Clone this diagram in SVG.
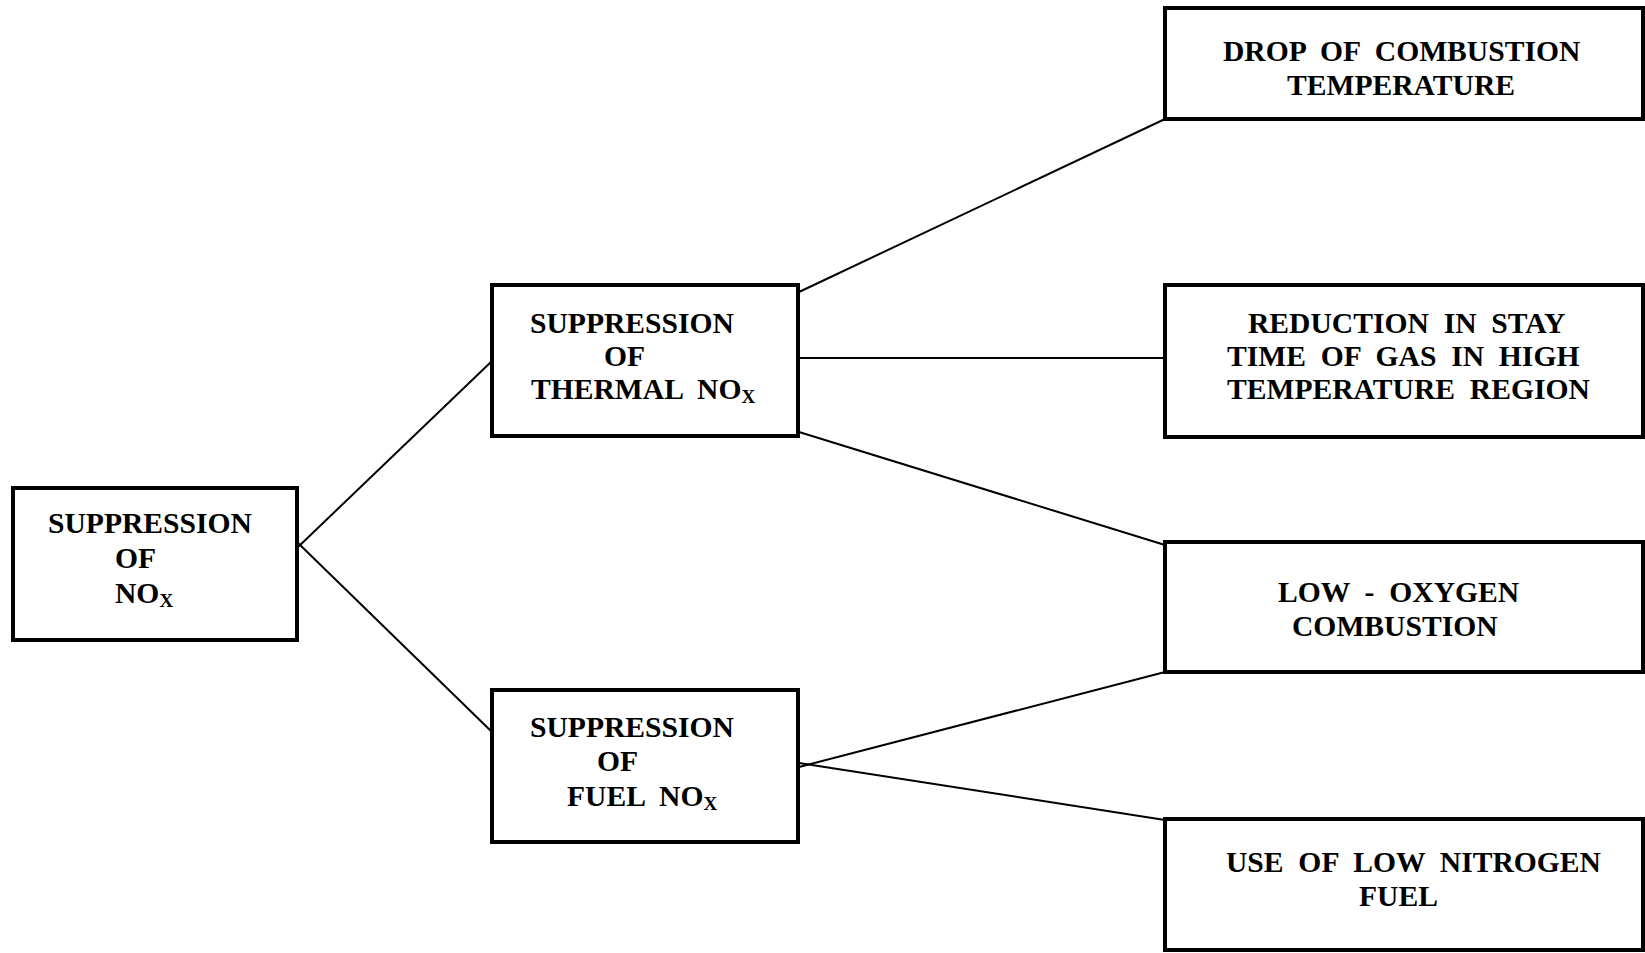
<svg xmlns="http://www.w3.org/2000/svg" width="1645" height="953" viewBox="0 0 1645 953">
<style>
.box{fill:#fff;stroke:#000;stroke-width:4}
.lbl{font-family:"Liberation Serif","Times New Roman",serif;font-weight:bold;font-size:29.6px;fill:#000;white-space:pre}
.sub{font-size:19px}
.con line{stroke:#000;stroke-width:2}
</style>
<rect width="1645" height="953" fill="#fff"/>
<g class="con" id="connectors">
<line x1="297" y1="548" x2="492" y2="361"/>
<line x1="297" y1="542" x2="492" y2="732"/>
<line x1="799" y1="292" x2="1165" y2="119"/>
<line x1="799" y1="358" x2="1165" y2="358"/>
<line x1="799" y1="432" x2="1165" y2="545"/>
<line x1="799" y1="767" x2="1165" y2="672"/>
<line x1="799" y1="763" x2="1165" y2="820"/>
</g>
<g id="root">
<rect class="box" x="13" y="488" width="284" height="152"/>
<text class="lbl" x="48" y="533">SUPPRESSION</text>
<text class="lbl" x="115" y="568">OF</text>
<text class="lbl" x="115" y="603">NO<tspan class="sub" dy="4">X</tspan></text>
</g>
<g id="thermal">
<rect class="box" x="492" y="285" width="306" height="151"/>
<text class="lbl" x="530" y="333">SUPPRESSION</text>
<text class="lbl" x="604" y="366">OF</text>
<text class="lbl" x="531" y="399">THERMAL  NO<tspan class="sub" dy="4">X</tspan></text>
</g>
<g id="fuel">
<rect class="box" x="492" y="690" width="306" height="152"/>
<text class="lbl" x="530" y="737">SUPPRESSION</text>
<text class="lbl" x="597" y="771">OF</text>
<text class="lbl" x="567" y="806">FUEL  NO<tspan class="sub" dy="4">X</tspan></text>
</g>
<g id="drop">
<rect class="box" x="1165" y="8" width="478" height="111"/>
<text class="lbl" x="1223" y="61">DROP  OF  COMBUSTION</text>
<text class="lbl" x="1287" y="95">TEMPERATURE</text>
</g>
<g id="reduction">
<rect class="box" x="1165" y="285" width="478" height="152"/>
<text class="lbl" x="1248" y="333">REDUCTION  IN  STAY</text>
<text class="lbl" x="1227" y="366">TIME  OF  GAS  IN  HIGH</text>
<text class="lbl" x="1227" y="399">TEMPERATURE  REGION</text>
</g>
<g id="lowoxygen">
<rect class="box" x="1165" y="542" width="478" height="130"/>
<text class="lbl" x="1278" y="602">LOW  -  OXYGEN</text>
<text class="lbl" x="1292" y="636">COMBUSTION</text>
</g>
<g id="lownitrogen">
<rect class="box" x="1165" y="819" width="478" height="131"/>
<text class="lbl" x="1226" y="872">USE  OF  LOW  NITROGEN</text>
<text class="lbl" x="1359" y="906">FUEL</text>
</g>
</svg>
